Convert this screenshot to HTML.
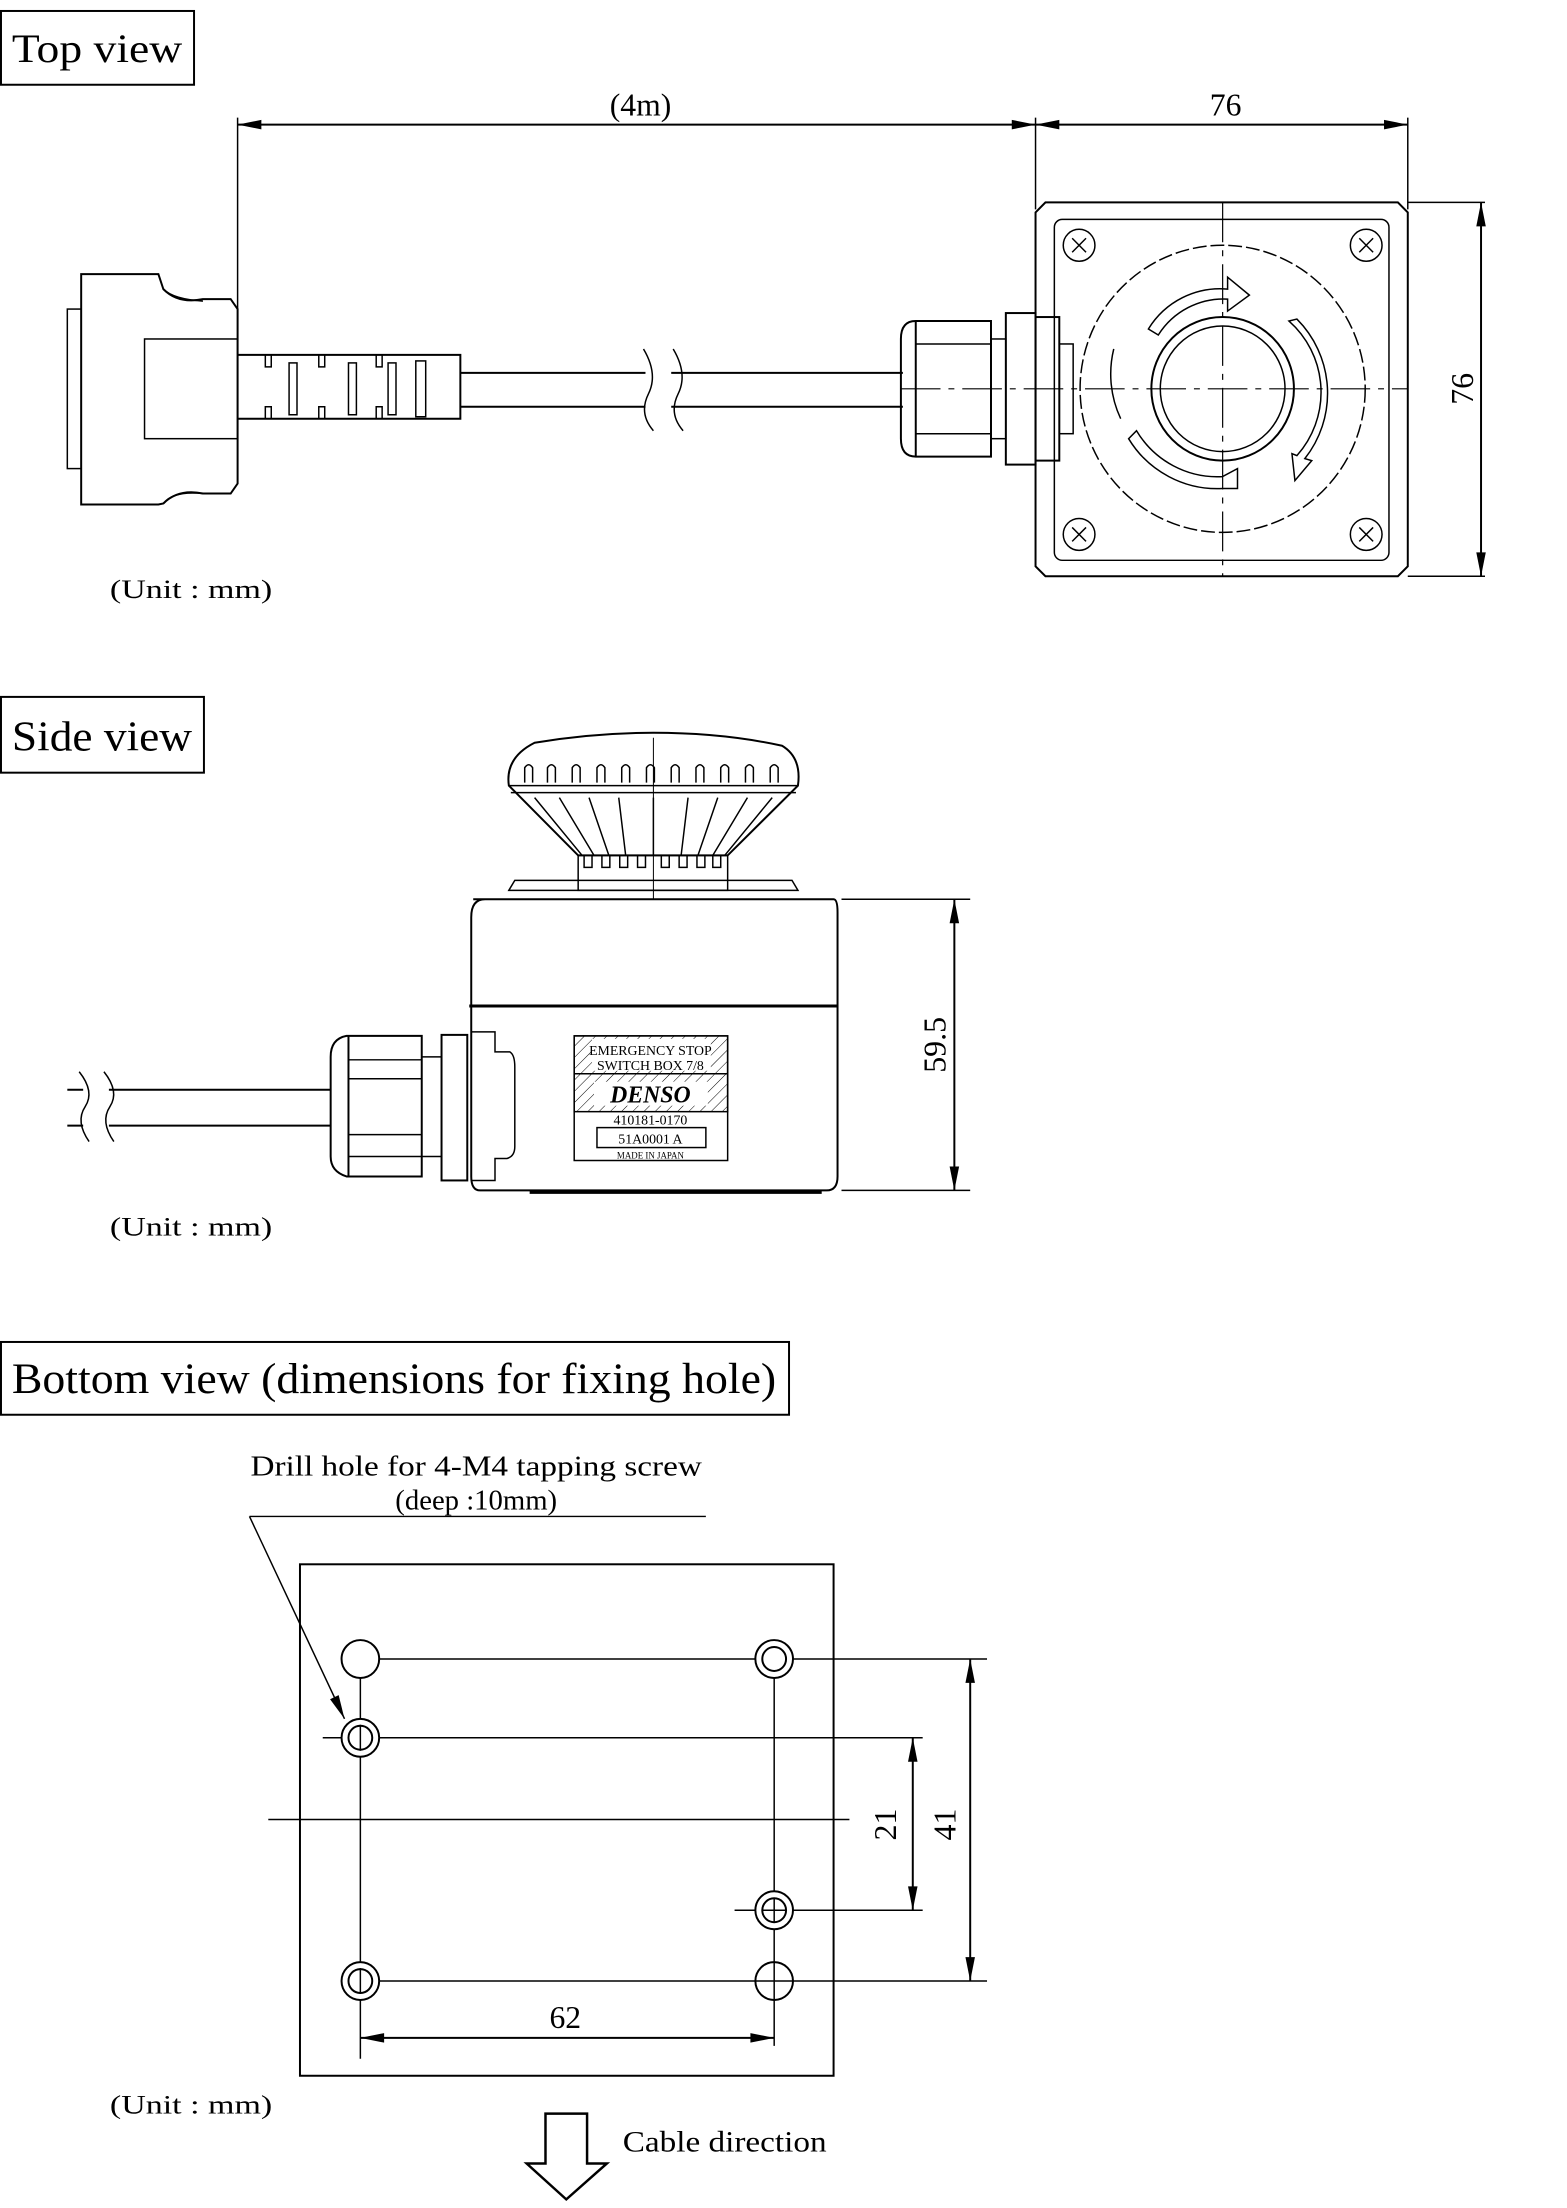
<!DOCTYPE html>
<html><head><meta charset="utf-8"><style>
html,body{margin:0;padding:0;background:#fff;}
svg{display:block;}
text{font-family:"Liberation Serif",serif;fill:#000;}
</style></head><body>
<svg width="1567" height="2208" viewBox="0 0 1567 2208" xmlns="http://www.w3.org/2000/svg">
<defs>
<marker id="b" viewBox="0 0 20 10" refX="20" refY="5" markerWidth="28" markerHeight="12" orient="auto-start-reverse" markerUnits="userSpaceOnUse"><path d="M0,1 L20,5 L0,9 z" fill="#000"/></marker>
<pattern id="h" width="8" height="8" patternUnits="userSpaceOnUse" patternTransform="rotate(45)"><line x1="0" y1="0" x2="0" y2="8" stroke="#000" stroke-width="1"/></pattern>
</defs>
<g transform="scale(0.99 0.997)">
<g fill="none" stroke="#000" stroke-width="2">
<!-- TOP VIEW -->
<rect x="1" y="11" width="195" height="74"/>
<line x1="240" y1="118" x2="240" y2="310" stroke-width="1.5"/>
<line x1="1046" y1="118" x2="1046" y2="210" stroke-width="1.5"/>
<line x1="1422" y1="118" x2="1422" y2="210" stroke-width="1.5"/>
<line x1="240" y1="125" x2="1046" y2="125" marker-start="url(#b)" marker-end="url(#b)"/>
<line x1="1046" y1="125" x2="1422" y2="125" marker-start="url(#b)" marker-end="url(#b)"/>
<line x1="1422" y1="203" x2="1500" y2="203" stroke-width="1.5"/>
<line x1="1422" y1="578" x2="1500" y2="578" stroke-width="1.5"/>
<line x1="1496" y1="203" x2="1496" y2="578" marker-start="url(#b)" marker-end="url(#b)"/>
<path d="M1056,203 L1412,203 L1422,213 L1422,568 L1412,578 L1056,578 L1046,568 L1046,213 Z"/>
<rect x="1065" y="220" width="338" height="342" rx="8" stroke-width="1.5"/>
<g stroke-width="1.5">
<circle cx="1090" cy="246" r="16"/><circle cx="1380" cy="246" r="16"/>
<circle cx="1090" cy="536" r="16"/><circle cx="1380" cy="536" r="16"/>
<path d="M1083,239 l14,14 M1097,239 l-14,14 M1373,239 l14,14 M1387,239 l-14,14 M1083,529 l14,14 M1097,529 l-14,14 M1373,529 l14,14 M1387,529 l-14,14"/>
</g>
<circle cx="1235" cy="390" r="144" stroke-width="1.5" stroke-dasharray="14 4"/>
<circle cx="1235" cy="390" r="72"/>
<circle cx="1235" cy="390" r="63" stroke-width="1.5"/>
<path d="M1160,330 A85,85 0 0 1 1240,290 L1240,278 L1262,296 L1240,312 L1240,300 A78,78 0 0 0 1170,336 Z" stroke-width="1.5"/>
<path d="M1310,320 A105,105 0 0 1 1318,460 L1325,462 L1308,482 L1305,455 L1310,457 A95,95 0 0 0 1302,322 Z" stroke-width="1.5"/>
<path d="M1140,440 A105,105 0 0 0 1235,490 L1250,490 L1250,470 L1235,478 A95,95 0 0 1 1148,432 Z" stroke-width="1.5"/>
<path d="M1132,420 A105,105 0 0 1 1125,350" stroke-width="1.5"/>
<line x1="1235" y1="203" x2="1235" y2="578" stroke-width="1.2" stroke-dasharray="40 8 6 8"/>
<line x1="910" y1="390" x2="1422" y2="390" stroke-width="1.2" stroke-dasharray="40 8 6 8"/>
<path d="M925,322 L1001,322 L1001,458 L925,458 Q910,458 910,440 L910,340 Q910,322 925,322 Z"/>
<line x1="925" y1="322" x2="925" y2="458"/>
<line x1="925" y1="345" x2="1001" y2="345" stroke-width="1.5"/><line x1="925" y1="435" x2="1001" y2="435" stroke-width="1.5"/>
<rect x="1016" y="314" width="30" height="152"/>
<rect x="1046" y="318" width="24" height="144"/>
<rect x="1001" y="340" width="15" height="100" stroke-width="1.5"/>
<rect x="1070" y="345" width="14" height="90" stroke-width="1.5"/>
<line x1="465" y1="374" x2="912" y2="374"/>
<line x1="465" y1="408" x2="912" y2="408"/>
<rect x="652" y="360" width="26" height="60" fill="#fff" stroke="none"/>
<path d="M650,350 Q665,375 655,395 Q645,415 660,432 M680,350 Q695,375 685,395 Q675,415 690,432" stroke-width="1.5"/>
<path d="M82,275 L160,275 L165,290 Q180,305 205,300 L233,300 L240,310 L240,485 L233,495 L205,495 Q180,490 165,505 L160,506 L82,506 Z"/>
<path d="M165,290 Q175,300 205,302 M165,505 Q175,492 205,495" stroke-width="1.5"/>
<rect x="68" y="310" width="14" height="160" stroke-width="1.5"/>
<rect x="146" y="340" width="94" height="100" stroke-width="1.5"/>
<path d="M240,356 L465,356 L465,420 L240,420" />
<path d="M268,356 v12 h6 v-12 M268,420 v-12 h6 v12 M322,356 v12 h6 v-12 M322,420 v-12 h6 v12 M380,356 v12 h6 v-12 M380,420 v-12 h6 v12" stroke-width="1.5"/>
<rect x="292" y="364" width="8" height="52" stroke-width="1.5"/>
<rect x="352" y="364" width="8" height="52" stroke-width="1.5"/>
<rect x="392" y="364" width="8" height="52" stroke-width="1.5"/>
<rect x="420" y="362" width="10" height="56" stroke-width="1.5"/>

<!-- SIDE VIEW -->
<rect x="1" y="699" width="205" height="76"/>
<line x1="850" y1="902" x2="980" y2="902" stroke-width="1.5"/>
<line x1="850" y1="1194" x2="980" y2="1194" stroke-width="1.5"/>
<line x1="964" y1="902" x2="964" y2="1194" marker-start="url(#b)" marker-end="url(#b)"/>
<path d="M478,902 L842,902 Q846,902 846,915 L846,1180 Q846,1194 835,1194 L485,1194 Q476,1194 476,1180 L476,920 Q476,902 490,902 Z"/>
<line x1="474" y1="1009" x2="846" y2="1009" stroke-width="3"/>
<path d="M514,893 L520,883 L800,883 L806,893 Z" stroke-width="1.5"/>
<line x1="535" y1="1196" x2="830" y2="1196" stroke-width="3"/>
<rect x="584" y="858" width="151" height="35" stroke-width="1.5"/>
<path d="M514,788 Q510,760 540,745 Q600,735 660,735 Q730,735 790,748 Q810,760 806,788 L735,858 L584,858 Z"/>
<line x1="514" y1="788" x2="806" y2="788" stroke-width="1.5"/>
<line x1="516" y1="795" x2="804" y2="795" stroke-width="1.5"/>
<g stroke-width="1.5">
<path d="M530,785 v-15 q4,-6 8,0 v15 M553,785 v-15 q4,-6 8,0 v15 M578,785 v-15 q4,-6 8,0 v15 M603,785 v-15 q4,-6 8,0 v15 M628,785 v-15 q4,-6 8,0 v15 M653,785 v-15 q4,-6 8,0 v15 M678,785 v-15 q4,-6 8,0 v15 M703,785 v-15 q4,-6 8,0 v15 M728,785 v-15 q4,-6 8,0 v15 M753,785 v-15 q4,-6 8,0 v15 M778,785 v-15 q4,-6 8,0 v15"/>
<path d="M540,800 L588,858 M565,800 L600,858 M595,800 L615,858 M625,800 L632,858 M660,800 L660,858 M695,800 L688,858 M725,800 L705,858 M755,800 L720,858 M780,800 L732,858"/>
<path d="M590,858 v12 h8 v-12 M608,858 v12 h8 v-12 M626,858 v12 h8 v-12 M644,858 v12 h8 v-12 M668,858 v12 h8 v-12 M686,858 v12 h8 v-12 M704,858 v12 h8 v-12 M720,858 v12 h8 v-12"/>
<line x1="660" y1="740" x2="660" y2="902" stroke-width="1"/>
</g>
<rect x="580" y="1039" width="155" height="125" stroke-width="1.5"/>
<rect x="580" y="1039" width="155" height="76" fill="url(#h)" stroke-width="1.5"/>
<rect x="598" y="1042" width="120" height="32" fill="#fff" stroke="none"/>
<line x1="580" y1="1077" x2="735" y2="1077" stroke-width="1.5"/>
<rect x="600" y="1085" width="115" height="24" fill="#fff" stroke="none"/>
<rect x="603" y="1131" width="110" height="20" stroke-width="1.5"/>
<path d="M350,1039 L426,1039 L426,1180 L350,1180 Q334,1175 334,1160 L334,1060 Q334,1042 350,1039 Z"/>
<line x1="352" y1="1039" x2="352" y2="1180"/>
<line x1="352" y1="1063" x2="426" y2="1063" stroke-width="1.5"/><line x1="352" y1="1082" x2="426" y2="1082" stroke-width="1.5"/>
<line x1="352" y1="1138" x2="426" y2="1138" stroke-width="1.5"/><line x1="352" y1="1160" x2="426" y2="1160" stroke-width="1.5"/>
<rect x="446" y="1038" width="26" height="146"/>
<path d="M476,1035 L500,1035 L500,1055 L515,1055 Q520,1058 520,1070 L520,1150 Q520,1160 512,1162 L500,1162 L500,1184 L476,1184" stroke-width="1.5"/>
<line x1="426" y1="1060" x2="446" y2="1060" stroke-width="1.5"/><line x1="426" y1="1160" x2="446" y2="1160" stroke-width="1.5"/>
<line x1="68" y1="1093" x2="334" y2="1093"/>
<line x1="68" y1="1129" x2="334" y2="1129"/>
<rect x="84" y="1080" width="26" height="62" fill="#fff" stroke="none"/>
<path d="M80,1075 Q96,1095 86,1110 Q76,1125 90,1145 M105,1075 Q121,1095 111,1110 Q101,1125 115,1145" stroke-width="1.5"/>

<!-- BOTTOM VIEW -->
<rect x="1" y="1346" width="796" height="73"/>
<line x1="252" y1="1521" x2="713" y2="1521" stroke-width="1.5"/>
<line x1="252" y1="1521" x2="348" y2="1724" stroke-width="1.5" marker-end="url(#b)"/>
<rect x="303" y="1569" width="539" height="513"/>
<g stroke-width="1.5">
<line x1="364" y1="1678" x2="364" y2="2065"/>
<line x1="782" y1="1678" x2="782" y2="2052"/>
<line x1="383" y1="1664" x2="997" y2="1664"/>
<line x1="326" y1="1743" x2="932" y2="1743"/>
<line x1="271" y1="1825" x2="858" y2="1825"/>
<line x1="742" y1="1916" x2="932" y2="1916"/>
<line x1="383" y1="1987" x2="997" y2="1987"/>
</g>
<g fill="#fff" stroke-width="2">
<circle cx="364" cy="1664" r="19"/>
<circle cx="782" cy="1664" r="19"/><circle cx="782" cy="1664" r="12"/>
<circle cx="364" cy="1743" r="19"/><circle cx="364" cy="1743" r="12"/>
<circle cx="782" cy="1916" r="19"/><circle cx="782" cy="1916" r="12"/>
<circle cx="364" cy="1987" r="19"/><circle cx="364" cy="1987" r="12"/>
<circle cx="782" cy="1987" r="19"/>
</g>
<path d="M770,1916 h24 M782,1904 v24 M763,1987 h38 M782,1968 v38 M364,1730 v26 M364,1974 v26" stroke-width="1.5"/>
<line x1="922" y1="1743" x2="922" y2="1916" marker-start="url(#b)" marker-end="url(#b)"/>
<line x1="980" y1="1664" x2="980" y2="1987" marker-start="url(#b)" marker-end="url(#b)"/>
<line x1="364" y1="2044" x2="782" y2="2044" marker-start="url(#b)" marker-end="url(#b)"/>
<path d="M551,2120 L593,2120 L593,2170 L613,2170 L572,2206 L532,2170 L551,2170 Z" stroke-width="2.5"/>
</g>
<text x="12" y="62" font-size="40" textLength="172" lengthAdjust="spacingAndGlyphs">Top view</text>
<text x="647" y="116" font-size="32" text-anchor="middle">(4m)</text>
<text x="1238" y="116" font-size="32" text-anchor="middle">76</text>
<text transform="translate(1488,390) rotate(-90)" font-size="32" text-anchor="middle">76</text>
<text x="111" y="600" font-size="27" textLength="164" lengthAdjust="spacingAndGlyphs">(Unit : mm)</text>
<text x="12" y="753" font-size="42" textLength="182" lengthAdjust="spacingAndGlyphs">Side view</text>
<text transform="translate(955,1048) rotate(-90)" font-size="32" text-anchor="middle" font-family="Liberation Sans,sans-serif">59.5</text>
<text x="657" y="1058" font-size="14" text-anchor="middle" font-family="Liberation Sans,sans-serif">EMERGENCY STOP</text>
<text x="657" y="1073" font-size="14" text-anchor="middle" font-family="Liberation Sans,sans-serif">SWITCH BOX 7/8</text>
<text x="657" y="1106" font-size="24" text-anchor="middle" font-style="italic" font-weight="bold" font-family="Liberation Sans,sans-serif">DENSO</text>
<text x="657" y="1128" font-size="14" text-anchor="middle" font-family="Liberation Sans,sans-serif">410181-0170</text>
<text x="657" y="1147" font-size="14" text-anchor="middle" font-family="Liberation Sans,sans-serif">51A0001 A</text>
<text x="657" y="1162" font-size="9" text-anchor="middle" font-family="Liberation Sans,sans-serif">MADE IN JAPAN</text>
<text x="111" y="1239" font-size="27" textLength="164" lengthAdjust="spacingAndGlyphs">(Unit : mm)</text>
<text x="12" y="1397" font-size="44" textLength="772" lengthAdjust="spacingAndGlyphs">Bottom view (dimensions for fixing hole)</text>
<text x="481" y="1480" font-size="29" text-anchor="middle" textLength="456" lengthAdjust="spacingAndGlyphs">Drill hole for 4-M4 tapping screw</text>
<text x="481" y="1514" font-size="29" text-anchor="middle">(deep :10mm)</text>
<text transform="translate(905,1830) rotate(-90)" font-size="32" text-anchor="middle">21</text>
<text transform="translate(965,1830) rotate(-90)" font-size="32" text-anchor="middle">41</text>
<text x="571" y="2034" font-size="32" text-anchor="middle">62</text>
<text x="111" y="2120" font-size="27" textLength="164" lengthAdjust="spacingAndGlyphs">(Unit : mm)</text>
<text x="629" y="2158" font-size="30" textLength="206" lengthAdjust="spacingAndGlyphs">Cable direction</text>
</g>
</svg>
</body></html>
